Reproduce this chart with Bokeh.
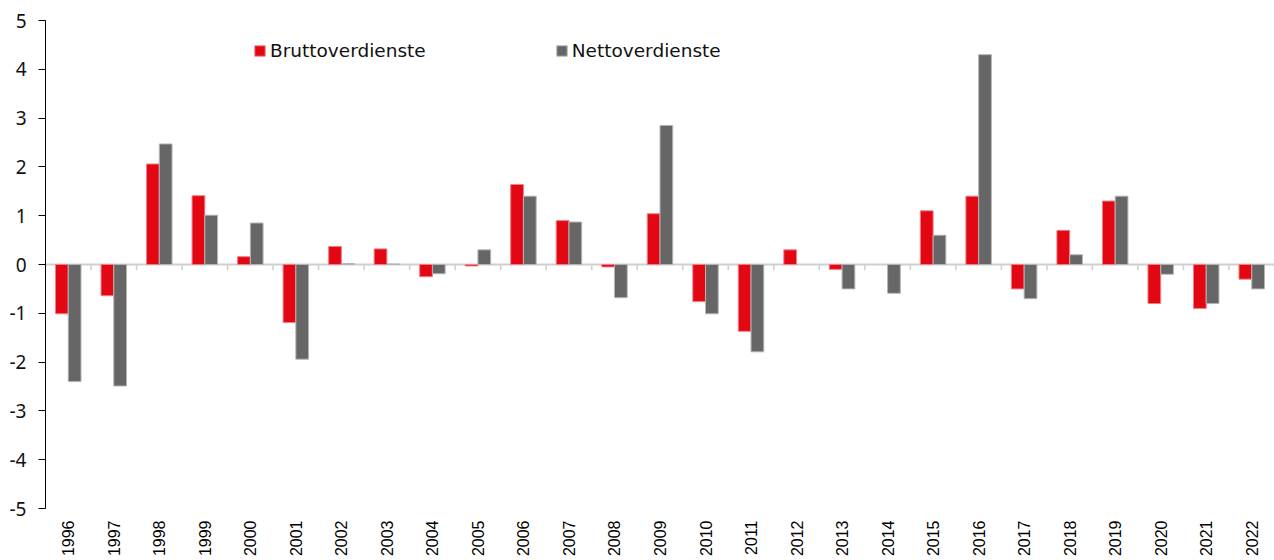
from bokeh.plotting import figure
from bokeh.models import (Range1d, FixedTicker, Legend, LegendItem, Span,
                          ColumnDataSource, LinearAxis)
from bokeh.embed import file_html
from bokeh.resources import INLINE
import math

years = ["1996", "1997", "1998", "1999", "2000", "2001", "2002", "2003", "2004",
         "2005", "2006", "2007", "2008", "2009", "2010", "2011", "2012", "2013",
         "2014", "2015", "2016", "2017", "2018", "2019", "2020", "2021", "2022"]
brutto = [-1.01, -0.64, 2.06, 1.41, 0.16, -1.19, 0.37, 0.32, -0.25,
          -0.03, 1.64, 0.90, -0.05, 1.04, -0.76, -1.37, 0.30, -0.10,
          0.0, 1.10, 1.40, -0.50, 0.70, 1.30, -0.80, -0.90, -0.30]
netto = [-2.40, -2.49, 2.47, 1.01, 0.85, -1.94, 0.02, 0.01, -0.19,
         0.30, 1.40, 0.87, -0.68, 2.85, -1.01, -1.79, 0.0, -0.50,
         -0.59, 0.60, 4.30, -0.70, 0.20, 1.40, -0.20, -0.80, -0.50]
y_ticks = [-5, -4, -3, -2, -1, 0, 1, 2, 3, 4, 5]

RED = "#e30613"
GRAY = "#666666"

n = len(years)
idx = list(range(n))
src = ColumnDataSource(dict(
    xr=[i + 0.5 - 0.14 for i in idx],
    xg=[i + 0.5 + 0.14 for i in idx],
    brutto=brutto, netto=netto,
    lr=["#f07f86" if v != 0 else None for v in brutto],
    lg=["#b5b5b5" if v != 0 else None for v in netto]))

p = figure(frame_width=1229, frame_height=488, output_backend="svg",
           toolbar_location=None, x_range=Range1d(0, n), y_range=Range1d(-5, 5),
           x_axis_location=None, min_border_left=45, min_border_top=20,
           min_border_right=0, min_border_bottom=0)
p.outline_line_color = None
p.xgrid.visible = False
p.ygrid.visible = False
p.background_fill_color = "white"

# zero line and category separator ticks
p.add_layout(Span(location=0, dimension="width", line_color="#cfcfcf",
                  line_width=2, level="underlay"))
sep = list(range(n + 1))
p.segment(x0=sep, x1=sep, y0=[0] * len(sep), y1=[-0.12] * len(sep),
          line_color="#cfcfcf", line_width=1.5, level="underlay")

r1 = p.vbar(x="xr", top="brutto", bottom=0, width=0.28, source=src,
            fill_color=RED, line_color="lr", line_width=1)
r2 = p.vbar(x="xg", top="netto", bottom=0, width=0.28, source=src,
            fill_color=GRAY, line_color="lg", line_width=1)

# y axis
ya = p.yaxis[0]
ya.ticker = FixedTicker(ticks=y_ticks)
ya.major_label_overrides = {t: str(t) for t in y_ticks}
ya.minor_tick_line_color = None
ya.axis_line_color = "black"
ya.major_tick_line_color = "black"
ya.major_tick_out = 7
ya.major_tick_in = 0
ya.major_label_standoff = 12
ya.major_label_text_font = "Noto Sans"
ya.major_label_text_font_size = "19px"
ya.major_label_text_color = "#111111"

# label axis
la = LinearAxis(ticker=FixedTicker(ticks=[i + 0.5 for i in idx]))
la.major_label_overrides = {i + 0.5: years[i] for i in idx}
la.axis_line_color = None
la.major_tick_line_color = None
la.minor_tick_line_color = None
la.major_tick_out = 0
la.major_tick_in = 0
la.major_label_orientation = math.pi / 2
la.major_label_text_font = "Liberation Sans"
la.major_label_text_font_size = "16px"
la.major_label_text_color = "black"
la.major_label_standoff = 12
p.add_layout(la, "below")

legend = Legend(items=[LegendItem(label="Bruttoverdienste", renderers=[r1]),
                       LegendItem(label="Nettoverdienste", renderers=[r2])],
                orientation="horizontal", location=(208, 447))
legend.border_line_color = None
legend.background_fill_alpha = 0
legend.padding = 0
legend.margin = 0
legend.spacing = 129
legend.glyph_width = 13
legend.glyph_height = 13
legend.label_standoff = 4
legend.label_text_font = "DejaVu Sans"
legend.label_text_font_size = "18.5px"
legend.label_text_color = "#111111"
p.add_layout(legend, "center")

open("out.html", "w").write(file_html(p, INLINE))
